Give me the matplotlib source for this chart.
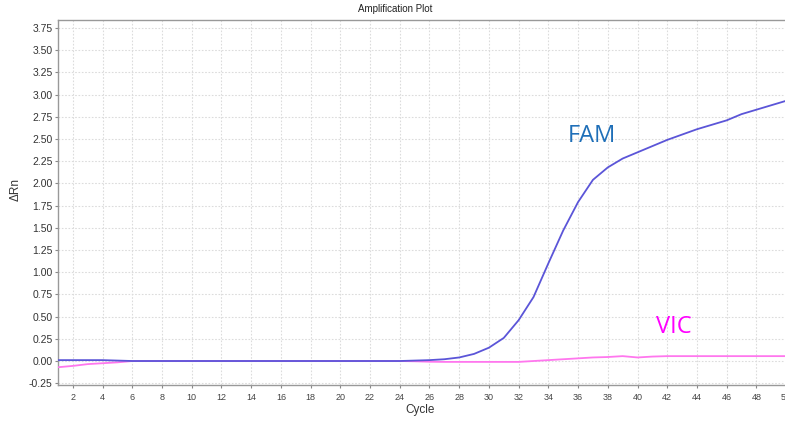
import matplotlib
matplotlib.use('Agg')
import matplotlib.pyplot as plt

cycles = list(range(1, 51))
fam = [0.01, 0.01, 0.01, 0.01, 0.005, 0.0, 0.0, 0.0, 0.0, 0.0,
       0.0, 0.0, 0.0, 0.0, 0.0, 0.0, 0.0, 0.0, 0.0, 0.0,
       0.0, 0.0, 0.0, 0.0, 0.005, 0.01, 0.02, 0.04, 0.08, 0.15,
       0.26, 0.46, 0.72, 1.10, 1.47, 1.79, 2.04, 2.18, 2.28, 2.35,
       2.42, 2.49, 2.55, 2.61, 2.66, 2.71, 2.78, 2.83, 2.88, 2.93]
vic = [-0.07, -0.055, -0.035, -0.025, -0.015, 0.0, 0.0, 0.0, 0.0, 0.0,
       0.0, 0.0, 0.0, 0.0, 0.0, 0.0, 0.0, 0.0, 0.0, 0.0,
       0.0, 0.0, 0.0, 0.0, -0.003, -0.008, -0.01, -0.01, -0.01, -0.01,
       -0.01, -0.01, 0.0, 0.01, 0.02, 0.03, 0.04, 0.045, 0.055, 0.04,
       0.05, 0.055, 0.055, 0.055, 0.055, 0.055, 0.055, 0.055, 0.055, 0.055]
yticks = [-0.25, 0.0, 0.25, 0.5, 0.75, 1.0, 1.25, 1.5, 1.75, 2.0,
          2.25, 2.5, 2.75, 3.0, 3.25, 3.5, 3.75]
xticks = list(range(2, 51, 2))

plt.rcParams['font.family'] = ['Liberation Sans', 'DejaVu Sans']

fig = plt.figure(figsize=(7.85, 4.22), dpi=100)
ax = fig.add_axes([0.0739, 0.0877, 0.9275, 0.8649])

ax.plot(cycles, vic, color='#ff77ee', lw=1.3, zorder=3)
ax.plot(cycles, fam, color='#5b55d8', lw=1.3, zorder=4)

ax.set_xlim(1, 50)
ax.set_ylim(-0.27, 3.84)
ax.set_yticks(yticks)
ax.set_yticklabels(['%.2f' % v for v in yticks])
ax.set_xticks(xticks)
ax.tick_params(axis='y', labelsize=7.5, length=2, color='#888888', labelcolor='#333333', pad=2)
ax.tick_params(axis='x', labelsize=6.5, length=2, color='#888888', labelcolor='#444444', pad=4)
ax.grid(True, color='#dcdcdc', linestyle=(0, (1.5, 1.5)), lw=0.8)
for s in ['left', 'bottom', 'top']:
    ax.spines[s].set_color('#999999')
    ax.spines[s].set_linewidth(1.0)
ax.spines['right'].set_visible(False)

ax.text(35.3, 2.47, 'FAM', color='#1f6fb8', fontsize=17, family='Open Sans')
ax.text(41.25, 0.315, 'VIC', color='#ff00ff', fontsize=17, family='Open Sans')

fig.text(0.504, 0.978, 'Amplification Plot', ha='center', va='center', fontsize=7, color='#222222')
fig.text(0.535, 0.028, 'Cycle', ha='center', va='center', fontsize=8.5, color='#333333')
fig.text(0.02, 0.55, '\u0394Rn', ha='center', va='center', rotation=90, fontsize=8.5, color='#333333')

fig.savefig('out.png', dpi=100)
